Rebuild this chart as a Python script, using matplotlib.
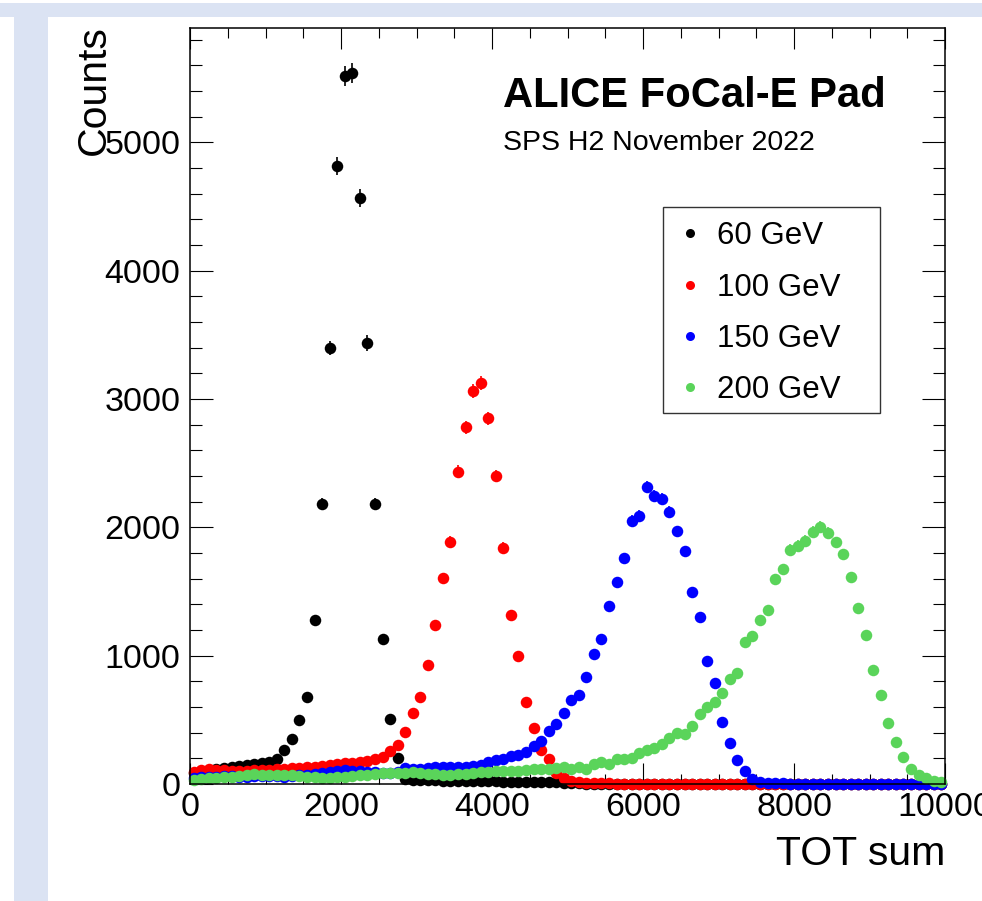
import numpy as np
import matplotlib
matplotlib.use("Agg")
import matplotlib.pyplot as plt
from matplotlib.patches import Rectangle
from matplotlib.lines import Line2D
from matplotlib.ticker import MultipleLocator, FixedLocator

plt.rcParams['font.family'] = ['Liberation Sans', 'DejaVu Sans']

# ---------------- data (histogram, 100 bins from 0 to 10000) ----------------
x_min, x_max, n_bins = 0, 10000, 100

counts_60 = [85, 95, 105, 118, 125, 130, 138, 148, 158, 166,
             172, 193, 263, 353, 499, 678, 1278, 2182, 3398, 4817,
             5518, 5541, 4567, 3437, 2182, 1128, 509, 205, 40, 35,
             32, 30, 28, 27, 26, 25, 24, 23, 22, 21,
             20, 19, 18, 18, 17, 16, 15, 14, 12, 10,
             8, 5, 3, 0, 0, 0, 0, 0, 0, 0,
             0, 0, 0, 0, 0, 0, 0, 0, 0, 0,
             0, 0, 0, 0, 0, 0, 0, 0, 0, 0,
             0, 0, 0, 0, 0, 0, 0, 0, 0, 0,
             0, 0, 0, 0, 0, 0, 0, 0, 0, 0]

counts_100 = [96, 108, 115, 110, 106, 104, 103, 105, 107, 109,
              112, 115, 118, 122, 125, 130, 135, 140, 147, 153,
              160, 166, 172, 180, 193, 213, 257, 302, 405, 556,
              676, 930, 1240, 1604, 1887, 2433, 2779, 3060, 3125, 2849,
              2402, 1843, 1320, 998, 642, 439, 265, 197, 84, 44,
              26, 15, 10, 7, 5, 4, 3, 2, 2, 1,
              0, 0, 0, 0, 0, 0, 0, 0, 0, 0,
              0, 0, 0, 0, 0, 0, 0, 0, 0, 0,
              0, 0, 0, 0, 0, 0, 0, 0, 0, 0,
              0, 0, 0, 0, 0, 0, 0, 0, 0, 0]

counts_150 = [45, 52, 58, 55, 60, 63, 58, 55, 60, 62,
              65, 62, 58, 63, 68, 72, 78, 85, 95, 105,
              110, 105, 100, 95, 90, 86, 88, 95, 125, 115,
              115, 122, 135, 135, 130, 130, 135, 140, 148, 171,
              187, 192, 221, 226, 250, 294, 337, 415, 465, 551,
              657, 696, 834, 1011, 1130, 1387, 1577, 1759, 2052, 2089,
              2317, 2247, 2221, 2120, 1970, 1816, 1496, 1304, 961, 785,
              486, 322, 187, 104, 36, 18, 10, 6, 4, 3,
              2, 2, 1, 0, 0, 0, 0, 0, 0, 0,
              0, 0, 0, 0, 0, 0, 0, 0, 0, 0]

counts_200 = [28, 40, 45, 50, 54, 57, 62, 70, 76, 74,
              70, 72, 74, 70, 62, 55, 52, 48, 50, 52,
              55, 62, 68, 74, 80, 82, 85, 86, 88, 90,
              84, 80, 76, 70, 72, 75, 80, 86, 90, 95,
              100, 102, 104, 104, 109, 115, 117, 119, 127, 135,
              119, 135, 117, 154, 169, 156, 192, 195, 200, 244,
              265, 280, 312, 355, 398, 390, 452, 546, 603, 641,
              712, 816, 863, 1104, 1156, 1278, 1356, 1600, 1673, 1824,
              1857, 1894, 1966, 2005, 1959, 1884, 1790, 1611, 1369, 1159,
              891, 691, 473, 330, 208, 119, 70, 49, 26, 18]

series_labels = ["60 GeV", "100 GeV", "150 GeV", "200 GeV"]
series_colors = ["#000000", "#ff0000", "#0000ff", "#5ad45a"]

x_ticks = [0, 2000, 4000, 6000, 8000, 10000]
y_ticks = [0, 1000, 2000, 3000, 4000, 5000]

# ---------------- figure ----------------
W, H = 982, 901
fig = plt.figure(figsize=(W / 100, H / 100), dpi=100)
fig.patch.set_facecolor("white")

band = "#dbe3f3"
fig.patches.append(Rectangle((0, 1 - 17 / H), 1, 14 / H, transform=fig.transFigure,
                             facecolor=band, edgecolor="none", zorder=0))
fig.patches.append(Rectangle((14 / W, 0), 34 / W, 1 - 17 / H, transform=fig.transFigure,
                             facecolor=band, edgecolor="none", zorder=0))

L, R, T, B = 190, 945, 28, 784
ax = fig.add_axes([L / W, 1 - B / H, (R - L) / W, (B - T) / H])

edges = np.linspace(x_min, x_max, n_bins + 1)
centers = 0.5 * (edges[:-1] + edges[1:])

for vals, col, lab in zip([counts_60, counts_100, counts_150, counts_200],
                          series_colors, series_labels):
    v = np.asarray(vals, dtype=float)
    ax.errorbar(centers, v, yerr=np.sqrt(v), fmt="o", color=col, ms=8.3,
                mew=0, elinewidth=1.2, capsize=0, label=lab, clip_on=False)

ax.set_xlim(x_min, x_max)
ax.set_ylim(0, 5892)

ax.xaxis.set_major_locator(FixedLocator(x_ticks))
ax.yaxis.set_major_locator(FixedLocator(y_ticks))
ax.xaxis.set_minor_locator(MultipleLocator(500))
ax.yaxis.set_minor_locator(MultipleLocator(200))
ax.set_xticklabels([str(t) for t in x_ticks])
ax.set_yticklabels([str(t) for t in y_ticks])

ax.tick_params(axis="both", which="both", direction="in", top=True, right=True,
               width=0.8, colors="black", labelsize=24.5)
ax.tick_params(axis="x", which="major", length=15, pad=6)
ax.tick_params(axis="x", which="minor", length=7.5)
ax.tick_params(axis="y", which="major", length=16.5, pad=7)
ax.tick_params(axis="y", which="minor", length=8.5)
for s in ax.spines.values():
    s.set_linewidth(1.1)

ax.set_xlabel("TOT sum", fontsize=29.5, loc="right")
ax.xaxis.set_label_coords(1.0, (B - 835) / (B - T))
ax.set_ylabel("Counts", fontsize=29.5, loc="top")
ax.yaxis.set_label_coords((113 - L) / (R - L), (B - 25) / (B - T))

ax.text((503 - L) / (R - L), (B - 107) / (B - T), "ALICE FoCal-E Pad",
        transform=ax.transAxes, fontsize=30.1, fontweight="bold", va="baseline")
ax.text((503 - L) / (R - L), (B - 150) / (B - T), "SPS H2 November 2022",
        transform=ax.transAxes, fontsize=20.5, va="baseline")

# legend
ax.add_patch(Rectangle((663 / W, 1 - 413 / H), (880 - 663) / W, (413 - 207) / H,
                       transform=fig.transFigure, facecolor="white",
                       edgecolor="#333333", linewidth=1.0, zorder=5, clip_on=False))
handles = [Line2D([], [], marker="o", ls="none", color=c, ms=6.5, mew=0) for c in series_colors]
leg = ax.legend(handles, series_labels, loc="upper left",
                bbox_to_anchor=(663 / W, 1 - 207 / H), bbox_transform=fig.transFigure,
                borderaxespad=0, frameon=False, fontsize=22.5, borderpad=0.46,
                handlelength=0.81, handletextpad=0.46, labelspacing=0.68)
leg.set_zorder(6)

fig.savefig("out.png", dpi=100)
